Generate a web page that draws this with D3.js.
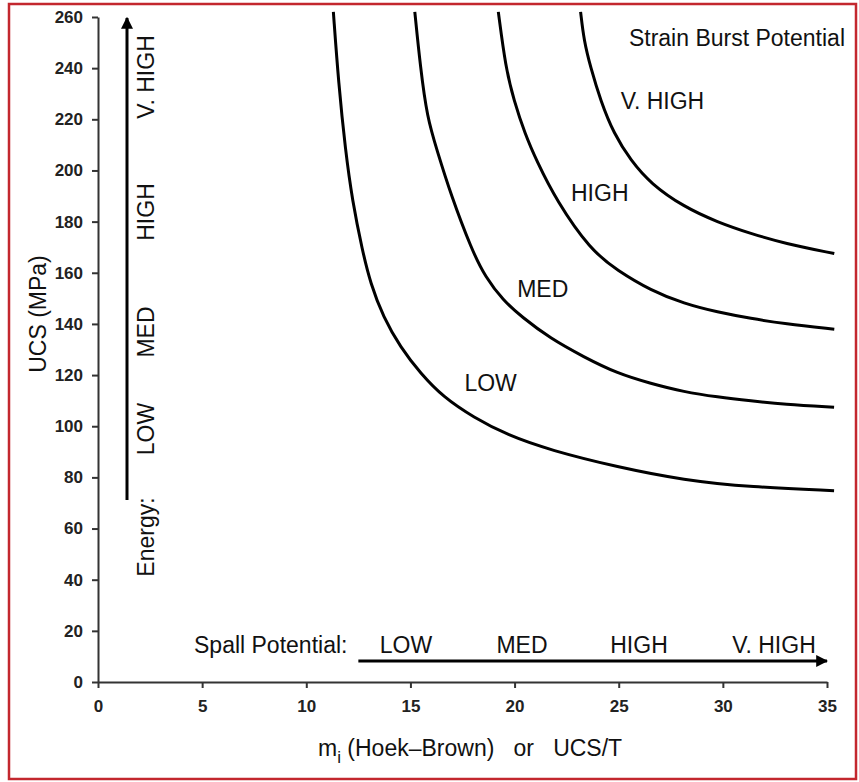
<!DOCTYPE html>
<meta charset="utf-8">
<style>
body { margin: 0; background: #fff; }
text { font-family: "Liberation Sans", Arial, sans-serif; fill: #111; }
.axis path, .axis line { stroke: #333; stroke-width: 2px; }
.axis text { font-size: 17px; font-weight: bold; fill: #222; }
.curve { fill: none; stroke: #000; stroke-width: 3px; }
.lbl { font-size: 23px; }
</style>
<svg width="859" height="782"></svg>
<script src="https://d3js.org/d3.v7.min.js"></script>
<script>

var svg = d3.select("svg");

// tick values
var xTicks = [0, 5, 10, 15, 20, 25, 30, 35];
var yTicks = [0, 20, 40, 60, 80, 100, 120, 140, 160, 180, 200, 220, 240, 260];

// curves: m_i vs UCS (MPa)
var lowM   = [11.3, 11.55, 11.88, 12.21, 12.69, 13.08, 13.7, 14.52, 15.48, 16.59, 18.03, 19.66, 21.73, 24.95, 28.13, 31.35, 35.34];
var lowUCS = [262, 234, 207.8, 188.3, 168.8, 155.9, 142.6, 130.9, 120.7, 111.3, 103.5, 96.5, 90.6, 84, 78.9, 76.2, 74.8];

var medM   = [15.21, 15.48, 15.8, 16.28, 16.92, 17.95, 18.6, 19.45, 20.35, 21.7, 23.32, 24.94, 26.54, 28.13, 29.74, 31.35, 32.93, 35.34];
var medUCS = [262, 240.3, 220.8, 207.8, 191, 168.8, 158.3, 149.2, 142.7, 134.4, 127.1, 120.6, 116.7, 113.4, 111.4, 109.9, 108.6, 107.4];

var highM   = [19.22, 19.57, 19.97, 20.5, 21.05, 22.0, 23.65, 24.94, 26.54, 28.14, 29.74, 31.35, 32.95, 35.35];
var highUCS = [262, 240.3, 227.3, 214.3, 203.9, 188.3, 168.8, 160.9, 153.1, 147.9, 144.6, 142.1, 140.1, 137.9];

var vhighM   = [23.17, 23.33, 23.65, 24.13, 24.77, 25.58, 26.54, 28.14, 29.74, 31.35, 32.95, 35.35];
var vhighUCS = [262, 250.8, 240.3, 227.3, 214.3, 203.9, 194.8, 185.7, 179.8, 175.3, 171.5, 167.5];

var curveNames  = ["LOW", "MED", "HIGH", "V. HIGH"];
var levelNames  = ["LOW", "MED", "HIGH", "V. HIGH"];

var x = d3.scaleLinear().domain([0, 35]).range([98, 827]);
var y = d3.scaleLinear().domain([0, 260]).range([682, 17]);

// red frame
svg.append("rect")
    .attr("x", 9).attr("y", 4)
    .attr("width", 847).attr("height", 775)
    .attr("fill", "none")
    .attr("stroke", "#c3272e")
    .attr("stroke-width", 2.5);

// axes
svg.append("g")
    .attr("class", "axis")
    .attr("transform", "translate(0," + y(0) + ")")
    .call(d3.axisBottom(x).tickValues(xTicks).tickSize(6).tickSizeOuter(0).tickPadding(12));

svg.append("g")
    .attr("class", "axis")
    .attr("transform", "translate(" + x(0) + ",0)")
    .call(d3.axisLeft(y).tickValues(yTicks).tickSize(6).tickSizeOuter(0).tickPadding(9));

// curves
var line = d3.line()
    .x(function(d) { return x(d[0]); })
    .y(function(d) { return y(d[1]); })
    .curve(d3.curveBasis);

[[lowM, lowUCS], [medM, medUCS], [highM, highUCS], [vhighM, vhighUCS]].forEach(function(c) {
  svg.append("path")
      .attr("class", "curve")
      .attr("d", line(d3.zip(c[0], c[1])));
});

// curve labels
var curveLabelPos = [[18.85, 116.8], [21.35, 153.5], [24.09, 191], [27.1, 227]];
curveNames.forEach(function(n, i) {
  svg.append("text")
      .attr("class", "lbl")
      .attr("x", x(curveLabelPos[i][0]))
      .attr("y", y(curveLabelPos[i][1]) + 8)
      .attr("text-anchor", "middle")
      .text(n);
});

svg.append("text")
    .attr("class", "lbl")
    .attr("x", 845).attr("y", 46)
    .attr("text-anchor", "end")
    .text("Strain Burst Potential");

// axis titles
svg.append("text")
    .attr("class", "lbl")
    .attr("transform", "translate(46,314) rotate(-90)")
    .attr("text-anchor", "middle")
    .text("UCS (MPa)");

var xt = svg.append("text")
    .attr("class", "lbl")
    .attr("x", 318).attr("y", 756)
    .attr("xml:space", "preserve");
xt.append("tspan").text("m");
xt.append("tspan").attr("dy", 7).attr("font-size", 17).text("i");
xt.append("tspan").attr("dy", -7).text(" (Hoek\u2013Brown)   or   UCS/T");

// spall potential arrow
var arrowDefs = svg.append("defs");
arrowDefs.append("marker")
    .attr("id", "head")
    .attr("viewBox", "0 0 10 10")
    .attr("refX", 9).attr("refY", 5)
    .attr("markerWidth", 4).attr("markerHeight", 4)
    .attr("orient", "auto")
  .append("path")
    .attr("d", "M0,0L10,5L0,10Z")
    .attr("fill", "#000");

svg.append("line")
    .attr("x1", x(12.5)).attr("x2", x(35.0))
    .attr("y1", 661).attr("y2", 661)
    .attr("stroke", "#000").attr("stroke-width", 3)
    .attr("marker-end", "url(#head)");

svg.append("text")
    .attr("class", "lbl")
    .attr("x", 194).attr("y", 653)
    .text("Spall Potential:");

var spallPos = [406, 522, 639, 774];
levelNames.forEach(function(n, i) {
  svg.append("text")
      .attr("class", "lbl")
      .attr("x", spallPos[i]).attr("y", 653)
      .attr("text-anchor", "middle")
      .text(n);
});

// energy arrow
svg.append("line")
    .attr("x1", 127).attr("x2", 127)
    .attr("y1", 500).attr("y2", 18)
    .attr("stroke", "#000").attr("stroke-width", 3)
    .attr("marker-end", "url(#head)");

var energyPos = [429, 332, 212, 77];
levelNames.forEach(function(n, i) {
  svg.append("text")
      .attr("class", "lbl")
      .attr("transform", "translate(154," + energyPos[i] + ") rotate(-90)")
      .attr("text-anchor", "middle")
      .text(n);
});
svg.append("text")
    .attr("class", "lbl")
    .attr("transform", "translate(154,537) rotate(-90)")
    .attr("text-anchor", "middle")
    .text("Energy:");

</script>
